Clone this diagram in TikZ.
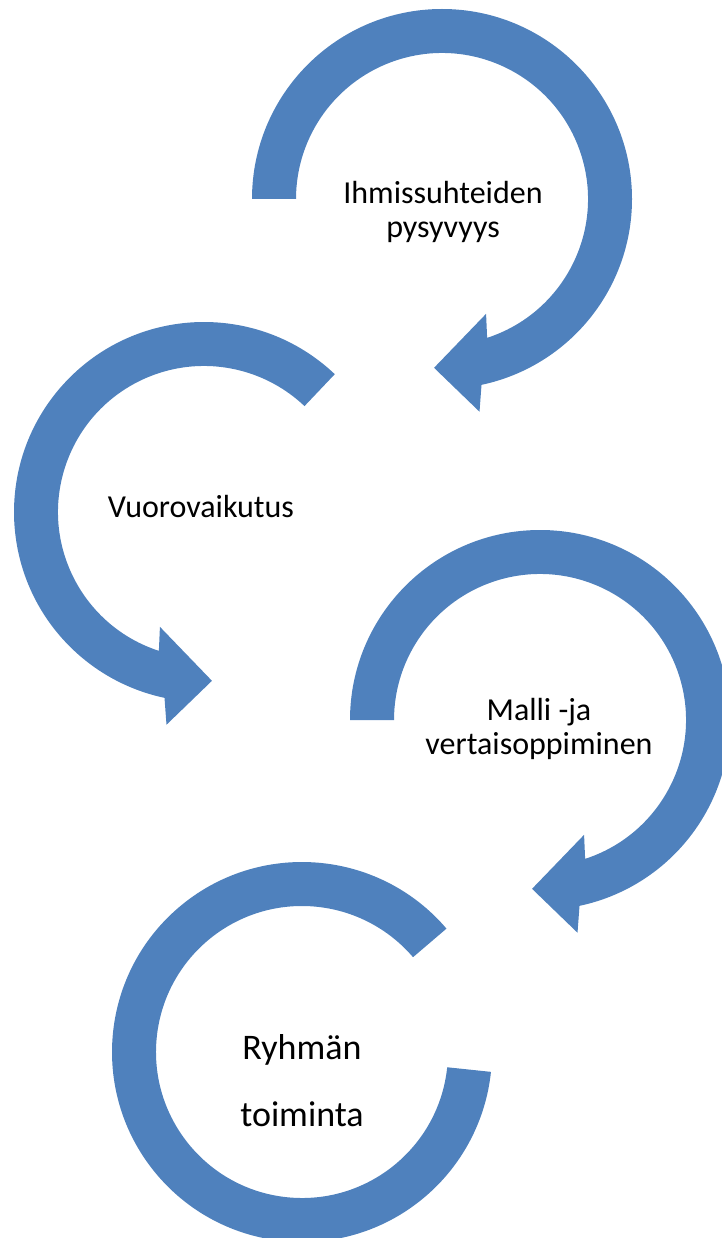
\documentclass[tikz,border=0pt]{standalone}
\usepackage{fontspec}
\setmainfont{Carlito}
\usepackage{tikz}
\definecolor{smartblue}{RGB}{79,129,189}

\begin{document}
\begin{tikzpicture}[x=1pt,y=1pt,
  arcband/.style={fill=smartblue,draw=none},
  lbl/.style={align=center,inner sep=0pt,font=\fontsize{32}{34}\selectfont}]
  \useasboundingbox (0,0) rectangle (721,-1238);
  % top arrow
  \begin{scope}[shift={(442,-199)}]
    \fill[arcband] (180:190) arc[start angle=180,end angle=-78,radius=190]
      -- (-80:216) -- (-92.7:169) -- (-69:123) -- (-72:146)
      arc[start angle=-72,end angle=180,radius=146] -- cycle;
    \node[lbl] (suhteet) at (1,-13) {Ihmissuhteiden\\pysyvyys};
  \end{scope}
  % left arrow
  \begin{scope}[shift={(204,-512)}]
    \fill[arcband] (46.5:190) arc[start angle=46.5,end angle=258,radius=190]
      -- (260:216) -- (272.7:169) -- (249:123) -- (252:146)
      arc[start angle=252,end angle=46.5,radius=146] -- cycle;
    \node[lbl,anchor=base] (vuoro) at (-3,-5) {Vuorovaikutus};
  \end{scope}
  % right arrow
  \begin{scope}[shift={(540,-720)}]
    \fill[arcband] (180:190) arc[start angle=180,end angle=-78,radius=190]
      -- (-80:216) -- (-92.7:169) -- (-69:123) -- (-72:146)
      arc[start angle=-72,end angle=180,radius=146] -- cycle;
    \node[lbl] (malli) at (-1,-9) {Malli -ja\\vertaisoppiminen};
  \end{scope}
  % bottom ring
  \begin{scope}[shift={(302,-1052)}]
    \fill[arcband] (40.5:190) arc[start angle=40.5,end angle=354,radius=190]
      -- (354:146) arc[start angle=354,end angle=40.5,radius=146] -- cycle;
    \node[lbl,font=\fontsize{36}{67}\selectfont] (ryhma) at (0,-29) {Ryhmän\\toiminta};
  \end{scope}
\end{tikzpicture}
\end{document}
